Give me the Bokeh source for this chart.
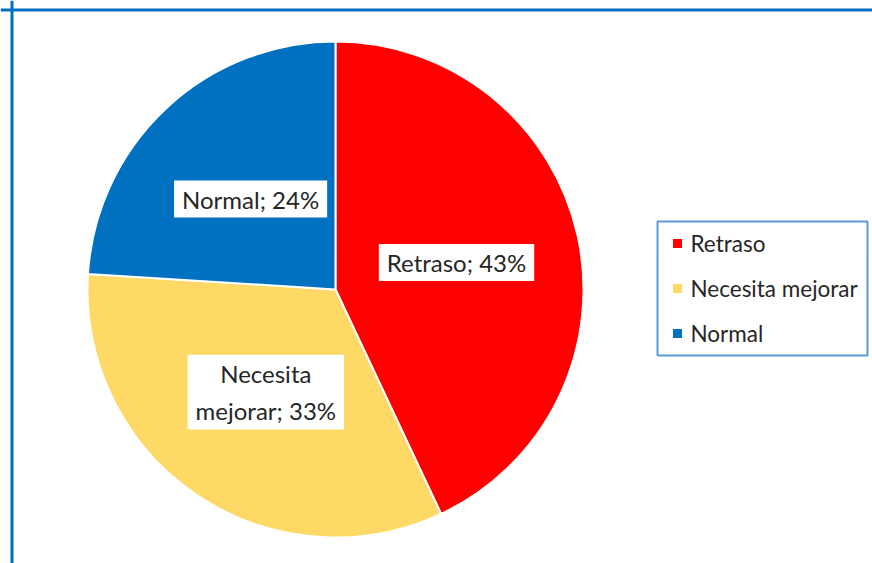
import numpy as np
from bokeh.plotting import figure
from bokeh.models import ColumnDataSource, Range1d, Span
from bokeh.core.properties import value
from bokeh.embed import file_html
from bokeh.resources import INLINE

# ---- data ----
categories = ["Retraso", "Necesita mejorar", "Normal"]
values = [43, 33, 24]
label_texts = ["Retraso; 43%", "Necesita\nmejorar; 33%", "Normal; 24%"]
colors = ["#FF0000", "#FFD966", "#0070C0"]

# ---- layout ----
W, H = 872, 563
cx, cy, R = 335, 274, 248
FONT = "Lato"
TXT = "#262626"

p = figure(width=W, height=H, x_range=Range1d(0, W), y_range=Range1d(0, H),
           output_backend="svg", toolbar_location=None, min_border=0,
           outline_line_color=None, background_fill_color="white",
           border_fill_color="white")
p.axis.visible = False
p.grid.visible = False

vals = np.array(values, dtype=float)
frac = vals / vals.sum()
cum = np.concatenate([[0], np.cumsum(frac)])
start = np.pi / 2 - 2 * np.pi * cum[:-1]
end = np.pi / 2 - 2 * np.pi * cum[1:]
mid = (start + end) / 2

src = ColumnDataSource(dict(cat=categories, val=values, start=start, end=end,
                            color=colors, text=label_texts,
                            lx=cx + 0.5 * R * np.cos(mid),
                            ly=cy + 0.5 * R * np.sin(mid)))

p.wedge(x=cx, y=cy, radius=R, start_angle="start", end_angle="end",
        direction="clock", fill_color="color", line_color="white",
        line_width=2, source=src)

p.text(x="lx", y="ly", text="text", source=src, text_align="center",
       text_baseline="middle", text_font=value(FONT), text_font_size="24px",
       text_color=TXT, text_line_height=1.3,
       background_fill_color="white", padding=(8, 4))

# ---- legend (manual) ----
lg_left, lg_right, lg_top, lg_bottom = 657, 867, 342, 208
p.quad(left=[lg_left], right=[lg_right], top=[lg_top], bottom=[lg_bottom],
       fill_color="white", line_color="#5B9BD5", line_width=2)
n = len(categories)
row_y = [lg_top - 22 - i * 45 for i in range(n)]
p.scatter(x=[lg_left + 20] * n, y=row_y, marker="square", size=9,
          fill_color=colors, line_color=None)
p.text(x=[lg_left + 33] * n, y=row_y, text=categories, text_align="left",
       text_baseline="middle", text_font=value(FONT), text_font_size="22.5px",
       text_color=TXT)

# ---- chart border (top and left) ----
p.add_layout(Span(location=H - 9.5, dimension="width", line_color="#0070C0",
                  line_width=3))
p.add_layout(Span(location=11.5, dimension="height", line_color="#0070C0",
                  line_width=3))

open("out.html", "w").write(file_html(p, INLINE))
